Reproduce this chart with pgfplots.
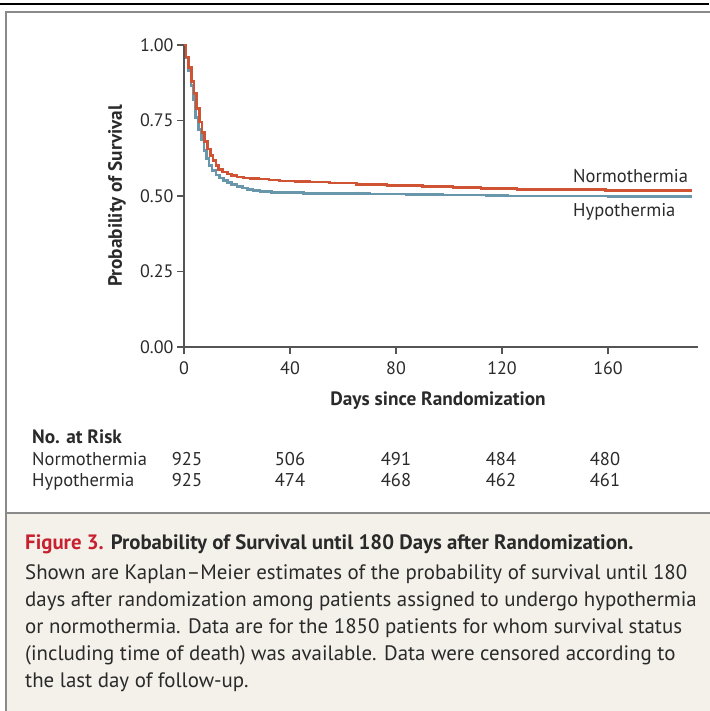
\documentclass[border=0pt]{standalone}
\usepackage{fontspec}
\setmainfont{PT Sans}
\usepackage{pgfplots}
\pgfplotsset{compat=1.18}
\definecolor{nred}{HTML}{D05434}
\definecolor{hblue}{HTML}{6896AA}
\definecolor{axgray}{HTML}{555555}
\definecolor{txt}{HTML}{2A2A2A}
\definecolor{capbg}{HTML}{F4F1EA}
\definecolor{figred}{HTML}{C8202F}
\definecolor{boxgray}{HTML}{8A8A8A}
\newcommand{\chartfont}{\fontsize{18.5}{20}\selectfont}
\newcommand{\boldlab}{\fontsize{19.3}{21}\selectfont\bfseries}
\begin{document}
\begin{tikzpicture}[x=1pt,y=1pt]
\useasboundingbox (0,0) rectangle (709,-711);
% frame
\fill[capbg] (6,-513) rectangle (712,-714);
\draw[boxgray, line width=2pt] (6,-714) -- (6,-12) -- (712,-12);
\draw[boxgray, line width=2pt] (6,-513) -- (712,-513);
\draw[black, line width=2.5pt] (0,-4) -- (709,-4);
\begin{axis}[
  at={(184pt,-347pt)}, anchor=origin,
  scale only axis, width=514.1pt, height=302pt,
  xmin=0, xmax=194, ymin=0, ymax=1,
  axis lines*=left,
  axis line style={draw=axgray, line width=1.4pt},
  every tick/.style={draw=axgray, line width=1.4pt},
  major tick length=7pt,
  tick align=outside,
  xtick={0,40,80,120,160}, ytick={0,0.25,0.5,0.75,1},
  /pgf/number format/assume math mode=true,
  yticklabel style={/pgf/number format/.cd, fixed, fixed zerofill, precision=2},
  xticklabel style={yshift=-4pt},
  ticklabel style={font=\fontsize{18}{20}\selectfont, text=txt},
  clip=false,
]
\addplot[const plot, hblue, line width=2.6pt] coordinates {
(0,1.000) (0.7,0.957) (1.6,0.915) (2.7,0.865) (3.5,0.820) (4.4,0.760)
(5.5,0.720) (6.5,0.685) (7.5,0.650) (8.5,0.625) (9.5,0.600) (10.5,0.585)
(12,0.570) (13.5,0.560) (15,0.552) (16.5,0.545) (18,0.538) (20,0.531)
(22,0.526) (24,0.522) (26,0.518) (28.7,0.514) (33,0.512) (38,0.511)
(45,0.509) (60,0.508) (70,0.507) (84,0.505) (97.7,0.503) (114,0.501)
(122,0.500) (160,0.498) (191.7,0.498)};
\addplot[const plot, nred, line width=2.6pt] coordinates {
(0,1.000) (0.8,0.960) (1.8,0.925) (2.8,0.880) (3.8,0.840) (4.8,0.790)
(5.8,0.745) (6.8,0.710) (7.8,0.680) (8.8,0.655) (10,0.635) (11,0.618)
(12,0.600) (13,0.588) (14.5,0.580) (16.5,0.573) (18,0.568) (20,0.563)
(22.5,0.560) (25,0.558) (28,0.556) (32,0.553) (36,0.550) (42,0.548)
(47.5,0.546) (55,0.543) (65,0.539) (76.6,0.535) (90,0.531) (101.5,0.528)
(112,0.525) (125.6,0.522) (139,0.521) (159,0.519) (179,0.518) (191.7,0.518)};
\end{axis}
% axis labels
\node[font=\boldlab, text=txt] at (438,-401) {Days since Randomization};
\node[font=\boldlab, text=txt, rotate=90] at (117,-196) {Probability of Survival};
% curve labels
\node[font=\chartfont, text=txt, anchor=base west, inner sep=0] at (573,-183) {Normothermia};
\node[font=\chartfont, text=txt, anchor=base west, inner sep=0] at (573,-217) {Hypothermia};
% risk table
\node[font=\boldlab, text=txt, anchor=base west, inner sep=0] at (32,-443) {No. at Risk};
\node[font=\chartfont, text=txt, anchor=base west, inner sep=0] at (32,-465) {Normothermia};
\node[font=\chartfont, text=txt, anchor=base west, inner sep=0] at (32,-486) {Hypothermia};
\foreach \x/\a/\b in {187/925/925, 290/506/474, 396/491/468, 501/484/462, 605/480/461}{
  \node[font=\chartfont, text=txt, anchor=base, inner sep=0] at (\x,-465) {\a};
  \node[font=\chartfont, text=txt, anchor=base, inner sep=0] at (\x,-486) {\b};
}
% caption
\node[font=\fontsize{20.8}{27}\selectfont\bfseries, anchor=base west, inner sep=0] at (25,-549) {\textcolor{figred}{Figure 3.} \textcolor{txt}{Probability of Survival until 180 Days after Randomization.}};
\foreach \y/\t in {
 579/{Shown are Kaplan--Meier estimates of the probability of survival until 180},
 606/{days after randomization among patients assigned to undergo hypothermia},
 633/{or normothermia. Data are for the 1850 patients for whom survival status},
 660/{(including time of death) was available. Data were censored according to},
 687/{the last day of follow-up.}}{
  \node[font=\fontsize{20.9}{27}\selectfont, text=txt, anchor=base west, inner sep=0] at (25,-\y) {\t};
}
\end{tikzpicture}
\end{document}
